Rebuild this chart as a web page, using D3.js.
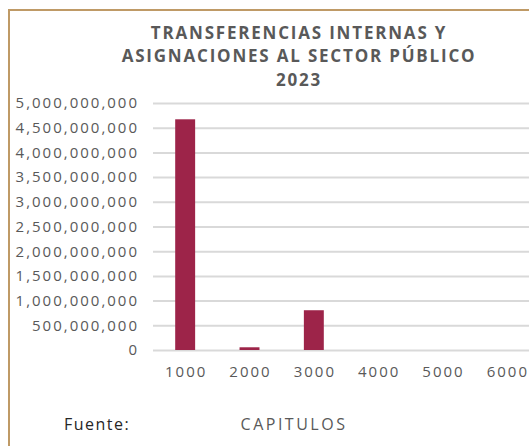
<!DOCTYPE html>
<html>
<head>
<meta charset="utf-8">
<script src="https://cdn.jsdelivr.net/npm/d3@7"></script>
<style>
  body { margin: 0; background: #fff; }
  text { font-family: "Open Sans", "DejaVu Sans", sans-serif; }
</style>
</head>
<body>
<div id="chart"></div>
<script>
// chart data
const capitulos = ["1000", "2000", "3000", "4000", "5000", "6000"];
const montos = [4670000000, 55000000, 805000000, 0, 0, 0];
const yTicks = [0, 500000000, 1000000000, 1500000000, 2000000000, 2500000000,
    3000000000, 3500000000, 4000000000, 4500000000, 5000000000];
const titleLines = ["TRANSFERENCIAS INTERNAS Y", "ASIGNACIONES AL SECTOR PÚBLICO", "2023"];

const W = 529, H = 446;
const plot = {left: 153, right: 539, top: 103, bottom: 350};

const svg = d3.select("#chart")
    .append("svg")
    .attr("width", W)
    .attr("height", H);

// frame (top and left edge)
svg.append("path")
    .attr("d", `M9,${H} V10 H${W}`)
    .attr("fill", "none")
    .attr("stroke", "#bf9a66")
    .attr("stroke-width", 2);

// title
svg.append("g")
    .selectAll("text")
    .data(titleLines)
    .join("text")
    .attr("x", 299)
    .attr("y", (d, i) => 38.5 + i * 23.5)
    .attr("text-anchor", "middle")
    .attr("font-size", 17)
    .attr("font-weight", "bold")
    .attr("letter-spacing", 1.8)
    .attr("fill", "#595959")
    .text(d => d);

// scales
const x = d3.scaleBand()
    .domain(capitulos)
    .range([plot.left, plot.right])
    .paddingInner(0.69)
    .paddingOuter(0.345);

const y = d3.scaleLinear()
    .domain([0, 5000000000])
    .range([plot.bottom, plot.top]);

// y axis with gridlines
const yAxis = svg.append("g")
    .attr("transform", `translate(${plot.left},0)`)
    .call(d3.axisLeft(y)
        .tickValues(yTicks)
        .tickFormat(d3.format(","))
        .tickSize(-(W - plot.left))
        .tickPadding(14));
yAxis.select(".domain").remove();
yAxis.selectAll(".tick line")
    .attr("stroke", "#d9d9d9")
    .attr("stroke-width", 2);
yAxis.selectAll(".tick text")
    .attr("fill", "#595959")
    .attr("font-size", 15)
    .attr("letter-spacing", 2)
    .style("font-family", "'Open Sans', sans-serif");

// bars
svg.append("g")
    .selectAll("rect")
    .data(capitulos)
    .join("rect")
    .attr("x", d => x(d))
    .attr("y", (d, i) => y(montos[i]))
    .attr("width", x.bandwidth())
    .attr("height", (d, i) => y(0) - y(montos[i]))
    .attr("fill", "#9d2449");

// x axis
const xAxis = svg.append("g")
    .attr("transform", `translate(1,${plot.bottom})`)
    .call(d3.axisBottom(x).tickSize(0).tickPadding(16));
xAxis.select(".domain").remove();
xAxis.selectAll(".tick text")
    .attr("fill", "#595959")
    .attr("font-size", 15)
    .attr("letter-spacing", 2)
    .style("font-family", "'Open Sans', sans-serif");

// axis title and source
svg.append("text")
    .attr("x", 294)
    .attr("y", 430)
    .attr("text-anchor", "middle")
    .attr("font-size", 16)
    .attr("letter-spacing", 2.5)
    .attr("fill", "#595959")
    .text("CAPITULOS");

svg.append("text")
    .attr("x", 64)
    .attr("y", 430)
    .attr("font-size", 16)
    .attr("letter-spacing", 1.5)
    .attr("fill", "#262626")
    .text("Fuente:");
</script>
</body>
</html>
